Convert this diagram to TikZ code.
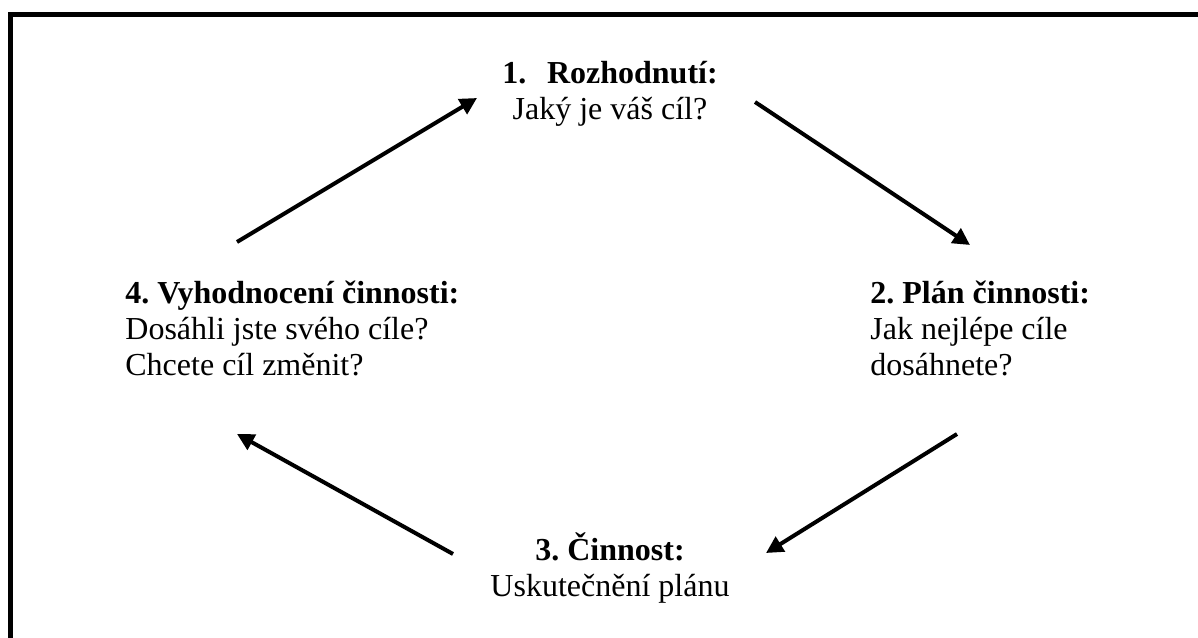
\documentclass[tikz,border=0pt]{standalone}
\usepackage{fontspec}
\setmainfont{Liberation Serif}
\usetikzlibrary{arrows.meta}
\frenchspacing

\tikzset{
  stage/.style={inner sep=0pt, font=\fontsize{16}{18}\selectfont},
  flow/.style={line width=2pt, -{Triangle[length=8.5pt,width=8.5pt]}},
  frame/.style={line width=2.25pt}
}

\begin{document}
\begin{tikzpicture}[x=0.5pt, y=-0.5pt]
  \useasboundingbox (0,0) rectangle (1198,637);

  % outer frame, running off the right and bottom edges
  \begin{scope}
    \clip (0,0) rectangle (1198,637);
    \draw[frame] (1260,14.3) -- (10.3,14.3) -- (10.3,700);
  \end{scope}

  % the four stages of the cycle
  \node[stage, anchor=base] (decide) at (610,83)
    {\begin{tabular}[t]{@{}c@{}}\textbf{1.\hspace{0.65em}Rozhodnutí:}\\Jaký je váš cíl?\end{tabular}};
  \node[stage, anchor=base west] (plan) at (870,303)
    {\begin{tabular}[t]{@{}l@{}}\textbf{2. Plán činnosti:}\\Jak nejlépe cíle\\dosáhnete?\end{tabular}};
  \node[stage, anchor=base] (act) at (610,560)
    {\begin{tabular}[t]{@{}c@{}}\textbf{3. Činnost:}\\Uskutečnění plánu\end{tabular}};
  \node[stage, anchor=base west] (review) at (125,303)
    {\begin{tabular}[t]{@{}l@{}}\textbf{4. Vyhodnocení činnosti:}\\Dosáhli jste svého cíle?\\Chcete cíl změnit?\end{tabular}};

  % arrow end points between the stages
  \coordinate (r1) at (237,242);  \coordinate (d1) at (477,98);
  \coordinate (d2) at (755,102);  \coordinate (p1) at (970,245);
  \coordinate (p2) at (957,434);  \coordinate (a1) at (766,553);
  \coordinate (a2) at (453,554);  \coordinate (r2) at (237,434);

  \draw[flow] (r1) -- (d1);
  \draw[flow] (d2) -- (p1);
  \draw[flow] (p2) -- (a1);
  \draw[flow] (a2) -- (r2);
\end{tikzpicture}
\end{document}
